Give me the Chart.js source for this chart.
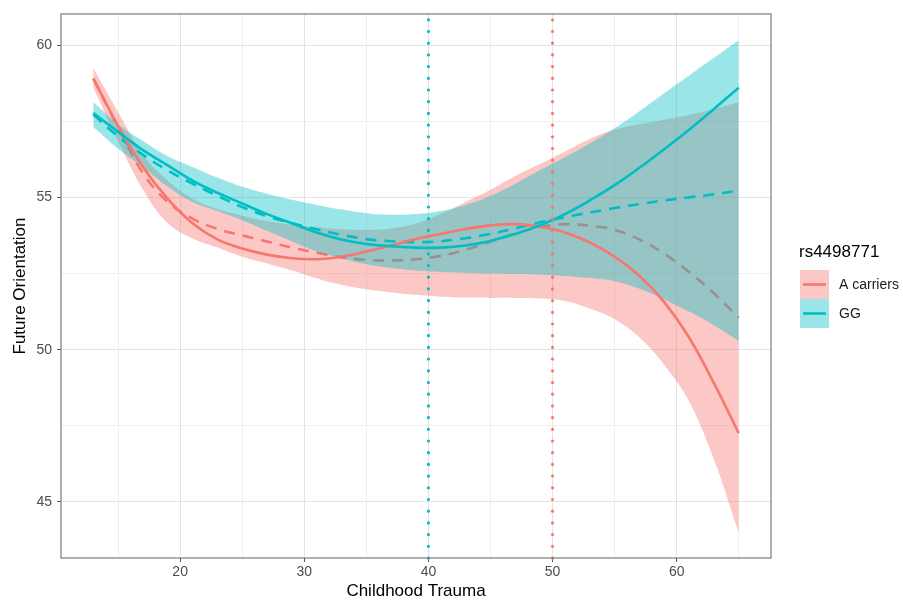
<!DOCTYPE html>
<html>
<head>
<meta charset="utf-8">
<script src="https://cdn.jsdelivr.net/npm/chart.js@4.4.1/dist/chart.umd.min.js"></script>
<style>
  html, body { margin: 0; padding: 0; background: #fff; }
  #wrap { width: 903px; height: 601px; }
</style>
</head>
<body>
<div id="wrap"><canvas id="chart" width="903" height="601"></canvas></div>
<script>
// Future orientation vs childhood trauma, split by rs4498771 genotype
const trauma = [13, 15, 17, 19, 21, 23, 25, 27, 29, 31, 33, 35, 37, 39,
                41, 43, 45, 47, 49, 51, 53, 55, 57, 59, 61, 63, 65];

// A carriers
const aFit   = [58.90, 57.35, 56.00, 54.95, 54.15, 53.62, 53.32, 53.12, 53.00, 52.97, 53.05, 53.22, 53.42, 53.63,
                53.80, 53.96, 54.08, 54.12, 54.03, 53.85, 53.52, 53.05, 52.42, 51.56, 50.40, 48.90, 47.26];
const aQuad  = [58.90, 57.30, 55.80, 54.85, 54.30, 53.97, 53.75, 53.55, 53.35, 53.18, 53.03, 52.95, 52.93, 52.97,
                53.08, 53.28, 53.55, 53.82, 54.03, 54.12, 54.07, 53.93, 53.62, 53.15, 52.55, 51.85, 51.05];
const aLower = [58.60, 56.85, 55.25, 54.15, 53.65, 53.35, 53.05, 52.83, 52.60, 52.34, 52.13, 51.98, 51.88, 51.80,
                51.74, 51.71, 51.70, 51.70, 51.68, 51.60, 51.35, 51.00, 50.40, 49.50, 48.30, 46.40, 43.98];
const aUpper = [59.25, 57.80, 56.40, 55.55, 54.95, 54.62, 54.40, 54.22, 54.10, 54.02, 53.95, 53.93, 53.98, 54.14,
                54.45, 54.85, 55.25, 55.70, 56.10, 56.50, 56.92, 57.22, 57.40, 57.55, 57.70, 57.90, 58.12];

// GG
const ggFit   = [57.77, 57.15, 56.55, 56.05, 55.55, 55.15, 54.80, 54.45, 54.15, 53.85, 53.62, 53.47, 53.40, 53.35,
                 53.35, 53.42, 53.57, 53.80, 54.08, 54.45, 54.90, 55.40, 55.97, 56.58, 57.22, 57.90, 58.60];
const ggQuad  = [57.72, 57.00, 56.40, 55.88, 55.45, 55.05, 54.68, 54.38, 54.15, 53.95, 53.77, 53.63, 53.56, 53.53,
                 53.56, 53.66, 53.80, 53.98, 54.18, 54.35, 54.50, 54.65, 54.78, 54.90, 55.00, 55.10, 55.22];
const ggLower = [57.31, 56.60, 56.00, 55.35, 54.85, 54.55, 54.25, 53.90, 53.55, 53.22, 53.00, 52.80, 52.68, 52.60,
                 52.55, 52.52, 52.50, 52.48, 52.46, 52.42, 52.35, 52.25, 52.00, 51.65, 51.25, 50.80, 50.28];
const ggUpper = [58.13, 57.40, 56.85, 56.35, 56.00, 55.65, 55.35, 55.12, 54.92, 54.75, 54.60, 54.48, 54.43, 54.45,
                 54.55, 54.75, 55.05, 55.45, 55.90, 56.32, 56.77, 57.27, 57.83, 58.42, 59.00, 59.58, 60.16];

const groups = ['A carriers', 'GG'];
const cutoffs = [50, 40];           // dotted reference lines, same order as groups
const xTicks = [20, 30, 40, 50, 60];
const yTicks = [45, 50, 55, 60];

const RED = '#F8766D';
const CYAN = '#00BFC4';
const RED_FILL = 'rgba(248,118,109,0.4)';
const CYAN_FILL = 'rgba(0,191,196,0.4)';
const FONT = '"Liberation Sans", Arial, Helvetica, sans-serif';

const pts = arr => trauma.map((x, i) => ({ x: x, y: arr[i] }));

function line(data, color, dash, width) {
    return {
        data: pts(data),
        borderColor: color,
        borderWidth: width,
        borderDash: dash,
        pointRadius: 0,
        fill: false,
        tension: 0.4
    };
}

function band(data, fillColor, fill) {
    return {
        data: pts(data),
        borderWidth: 0,
        borderColor: 'rgba(0,0,0,0)',
        backgroundColor: fillColor,
        pointRadius: 0,
        fill: fill,
        tension: 0.4
    };
}

// first dataset is drawn on top
const datasets = [
    line(ggFit, CYAN, [], 2.6),
    line(aFit, RED, [], 2.6),
    line(ggQuad, CYAN, [11, 8], 2.6),
    band(ggUpper, CYAN_FILL, '+1'),
    band(ggLower, CYAN_FILL, false),
    line(aQuad, RED, [11, 8], 2.6),
    band(aUpper, RED_FILL, '+1'),
    band(aLower, RED_FILL, false)
];

const panelBorder = {
    id: 'panelBorder',
    afterDraw(chart) {
        const a = chart.chartArea, ctx = chart.ctx;
        ctx.save();
        ctx.strokeStyle = '#7a7a7a';
        ctx.lineWidth = 1.2;
        ctx.strokeRect(a.left, a.top, a.right - a.left, a.bottom - a.top);
        ctx.restore();
    }
};

const cutoffLines = {
    id: 'cutoffLines',
    afterDatasetsDraw(chart) {
        const a = chart.chartArea, ctx = chart.ctx, xs = chart.scales.x;
        const colors = [RED, CYAN];
        ctx.save();
        ctx.lineWidth = 3.2;
        ctx.lineCap = 'round';
        ctx.setLineDash([0, 11.7]);
        cutoffs.forEach((c, i) => {
            const px = xs.getPixelForValue(c);
            ctx.strokeStyle = colors[i];
            ctx.beginPath();
            ctx.moveTo(px, a.bottom);
            ctx.lineTo(px, a.top);
            ctx.stroke();
        });
        ctx.restore();
    }
};

const sideLegend = {
    id: 'sideLegend',
    afterDraw(chart) {
        const ctx = chart.ctx;
        const lineCols = [RED, CYAN], fillCols = [RED_FILL, CYAN_FILL];
        ctx.save();
        ctx.fillStyle = '#000';
        ctx.font = '17px ' + FONT;
        ctx.textBaseline = 'alphabetic';
        ctx.fillText('rs4498771', 799, 257);
        groups.forEach((g, i) => {
            const top = 270 + i * 29;
            ctx.fillStyle = '#fff';
            ctx.fillRect(800, top, 29, 29);
            ctx.fillStyle = fillCols[i];
            ctx.fillRect(800, top, 29, 29);
            ctx.strokeStyle = lineCols[i];
            ctx.lineWidth = 2.6;
            ctx.beginPath();
            ctx.moveTo(803, top + 14.5);
            ctx.lineTo(826, top + 14.5);
            ctx.stroke();
            ctx.fillStyle = '#1a1a1a';
            ctx.font = '14px ' + FONT;
            ctx.textBaseline = 'middle';
            ctx.fillText(g, 839, top + 15);
        });
        ctx.restore();
    }
};

const gridFor = (major) => (c) => (c.tick && major.includes(c.tick.value)) ? '#e3e3e3' : '#efefef';
const tickFor = (major) => (c) => (c.tick && major.includes(c.tick.value)) ? '#555' : 'rgba(0,0,0,0)';

new Chart(document.getElementById('chart'), {
    type: 'line',
    data: { datasets: datasets },
    options: {
        responsive: false,
        animation: false,
        events: [],
        layout: { padding: { top: 14, right: 132, bottom: 0, left: 0 } },
        plugins: { legend: { display: false }, tooltip: { enabled: false } },
        scales: {
            x: {
                type: 'linear',
                min: 10.4,
                max: 67.6,
                afterBuildTicks: s => {
                    const t = [];
                    for (let v = 15; v <= 65; v += 5) t.push({ value: v });
                    s.ticks = t;
                },
                afterFit: s => { s.height = 43; },
                grid: { color: gridFor(xTicks), tickColor: tickFor(xTicks), lineWidth: 1, tickLength: 4 },
                border: { display: false },
                ticks: {
                    autoSkip: false,
                    maxRotation: 0,
                    padding: 2,
                    color: '#4d4d4d',
                    font: { family: FONT, size: 14 },
                    callback: v => xTicks.includes(v) ? String(v) : ''
                },
                title: {
                    display: true,
                    text: 'Childhood Trauma',
                    color: '#000',
                    font: { family: FONT, size: 17 },
                    padding: { top: 0, bottom: -1 }
                }
            },
            y: {
                type: 'linear',
                min: 43.16,
                max: 61.02,
                afterBuildTicks: s => {
                    const t = [];
                    for (let v = 45; v <= 60; v += 2.5) t.push({ value: v });
                    s.ticks = t;
                },
                afterFit: s => { s.width = 61; },
                grid: { color: gridFor(yTicks), tickColor: tickFor(yTicks), lineWidth: 1, tickLength: 4 },
                border: { display: false },
                ticks: {
                    autoSkip: false,
                    padding: 5,
                    color: '#4d4d4d',
                    font: { family: FONT, size: 14 },
                    callback: v => yTicks.includes(v) ? String(v) : ''
                },
                title: {
                    display: true,
                    text: 'Future Orientation',
                    color: '#000',
                    font: { family: FONT, size: 17 },
                    padding: { top: 10, bottom: 0 }
                }
            }
        }
    },
    plugins: [panelBorder, cutoffLines, sideLegend]
});
</script>
</body>
</html>
